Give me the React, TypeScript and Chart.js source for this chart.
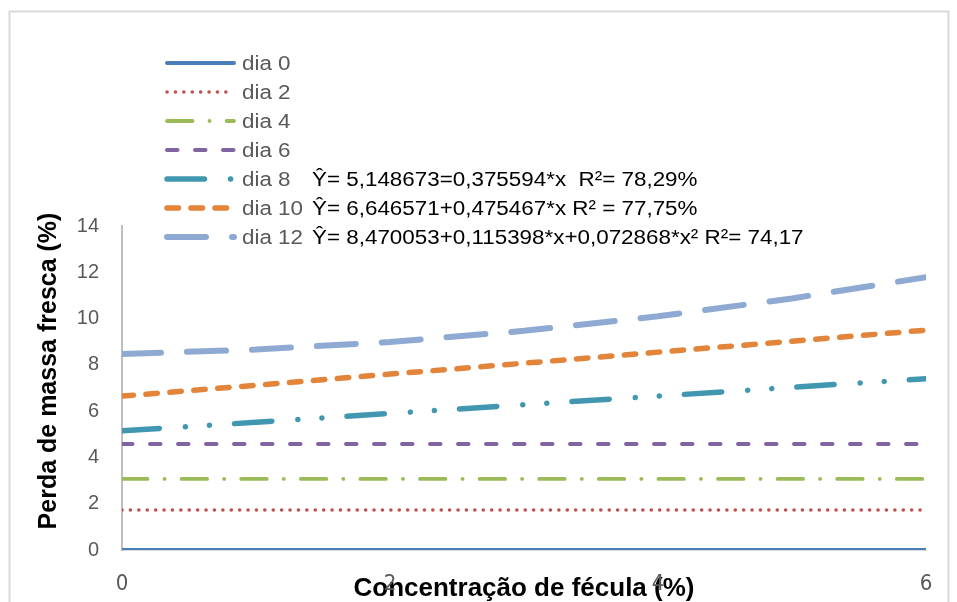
import React, { useEffect, useRef } from "react";
import { Chart, registerables } from "chart.js";

Chart.register(...registerables);

// ---- data ----
const xValues = [0, 1, 2, 3, 4, 5, 6];
const seriesNames = ["dia 0", "dia 2", "dia 4", "dia 6", "dia 8", "dia 10", "dia 12"];
const dia0 = [0, 0, 0, 0, 0, 0, 0];
const dia2 = [1.73, 1.73, 1.73, 1.73, 1.73, 1.73, 1.73];
const dia4 = [3.07, 3.07, 3.07, 3.07, 3.07, 3.07, 3.07];
const dia6 = [4.58, 4.58, 4.58, 4.58, 4.58, 4.58, 4.58];
const dia8 = [5.15, 5.52, 5.9, 6.28, 6.65, 7.03, 7.4];
const dia10 = [6.65, 7.12, 7.6, 8.07, 8.55, 9.02, 9.5];
const dia12 = [8.47, 8.66, 8.99, 9.47, 10.1, 10.87, 11.79];
const equations = [
  "",
  "",
  "",
  "",
  "Ŷ= 5,148673=0,375594*x  R²= 78,29%",
  "Ŷ= 6,646571+0,475467*x R² = 77,75%",
  "Ŷ= 8,470053+0,115398*x+0,072868*x² R²= 74,17",
];
const xTitle = "Concentração de fécula (%)";
const yTitle = "Perda de massa fresca (%)";
const yMin = 0;
const yMax = 14;
const yStep = 2;
const xMin = 0;
const xMax = 6;
const xStep = 2;

// ---- styles ----
const allSeries = [dia0, dia2, dia4, dia6, dia8, dia10, dia12];
const colors = ["#4A7EBB", "#C0504D", "#9BBB59", "#8064A2", "#4197B0", "#E2843A", "#8FAAD2"];
const widths = [4, 3.5, 3.8, 4, 5.5, 5.5, 6];
const dashes: number[][] = [
  [],
  [0.1, 8.3],
  [25.5, 17, 0.1, 17],
  [10.5, 17.5],
  [37.5, 26, 0.1, 24, 0.1, 25],
  [11.5, 12.5],
  [39, 26],
];

const FONT = "'Liberation Sans', Arial, sans-serif";

const overlayPlugin = {
  id: "overlay",
  afterDraw(chart: any) {
    const ctx: CanvasRenderingContext2D = chart.ctx;
    ctx.save();
    // outer border
    ctx.strokeStyle = "#D9D9D9";
    ctx.lineWidth = 2;
    ctx.strokeRect(9.5, 11.5, 939, 620);

    // legend
    chart.data.datasets.forEach((ds: any, i: number) => {
      const y = 63 + 29 * i;
      ctx.save();
      ctx.beginPath();
      ctx.strokeStyle = ds.borderColor;
      ctx.lineWidth = ds.borderWidth;
      ctx.lineCap = "round";
      ctx.setLineDash(ds.borderDash || []);
      ctx.moveTo(167, y);
      ctx.lineTo(234, y);
      ctx.stroke();
      ctx.restore();

      ctx.save();
      ctx.font = `20px ${FONT}`;
      ctx.textBaseline = "middle";
      ctx.textAlign = "left";
      ctx.fillStyle = "#595959";
      ctx.translate(242, y + 1);
      ctx.scale(1.12, 1);
      ctx.fillText(ds.label, 0, 0);
      ctx.restore();

      if (equations[i]) {
        ctx.save();
        ctx.font = `20px ${FONT}`;
        ctx.textBaseline = "middle";
        ctx.textAlign = "left";
        ctx.fillStyle = "#000000";
        ctx.translate(312, y + 1);
        ctx.scale(1.12, 1);
        ctx.fillText(equations[i], 0, 0);
        ctx.restore();
      }
    });

    // y axis title
    ctx.save();
    ctx.translate(49, 371);
    ctx.rotate(-Math.PI / 2);
    ctx.font = `bold 25px ${FONT}`;
    ctx.fillStyle = "#000000";
    ctx.textAlign = "center";
    ctx.textBaseline = "middle";
    ctx.fillText(yTitle, 0, 0);
    ctx.restore();

    ctx.restore();
  },
};

export default function App() {
  const ref = useRef<HTMLCanvasElement | null>(null);

  useEffect(() => {
    if (!ref.current) return;
    const chart = new Chart(ref.current, {
      type: "line",
      data: {
        datasets: allSeries.map((vals, i) => ({
          label: seriesNames[i],
          data: xValues.map((x, j) => ({ x, y: vals[j] })),
          borderColor: colors[i],
          backgroundColor: colors[i],
          borderWidth: widths[i],
          borderDash: dashes[i],
          borderCapStyle: i === 0 ? "butt" : "round",
          borderJoinStyle: "round",
          pointRadius: 0,
          pointHoverRadius: 0,
          tension: 0,
          fill: false,
        })),
      },
      options: {
        animation: false,
        responsive: false,
        devicePixelRatio: 1,
        events: [],
        layout: { padding: { top: 226, right: 31, bottom: 0, left: 0 } },
        plugins: {
          legend: { display: false },
          title: { display: false },
          tooltip: { enabled: false },
        },
        scales: {
          x: {
            type: "linear",
            min: xMin,
            max: xMax,
            grid: { display: false, drawTicks: false },
            border: { display: true, color: "#D9D9D9", width: 1 },
            ticks: {
              stepSize: xStep,
              padding: 21,
              color: "#595959",
              font: { family: "'Liberation Sans Narrow', 'DejaVu Sans Condensed', sans-serif", size: 22 },
              maxRotation: 0,
            },
            title: {
              display: true,
              text: xTitle,
              color: "#000000",
              font: { family: FONT, size: 26, weight: "bold" },
              padding: { top: 0, bottom: -2 },
            },
            afterFit(scale: any) {
              scale.height = 52;
            },
          },
          y: {
            type: "linear",
            min: yMin,
            max: yMax,
            grid: { display: false, drawTicks: false },
            border: { display: true, color: "#BFBFBF", width: 2 },
            ticks: {
              stepSize: yStep,
              padding: 23,
              color: "#595959",
              font: { family: FONT, size: 20 },
            },
            afterFit(scale: any) {
              scale.width = 122;
            },
          },
        },
      },
      plugins: [overlayPlugin],
    } as any);
    return () => chart.destroy();
  }, []);

  return (
    <div style={{ position: "fixed", left: 0, top: 0, width: 957, height: 602, background: "#ffffff" }}>
      <canvas ref={ref} width={957} height={602} style={{ display: "block", width: 957, height: 602 }} />
    </div>
  );
}
